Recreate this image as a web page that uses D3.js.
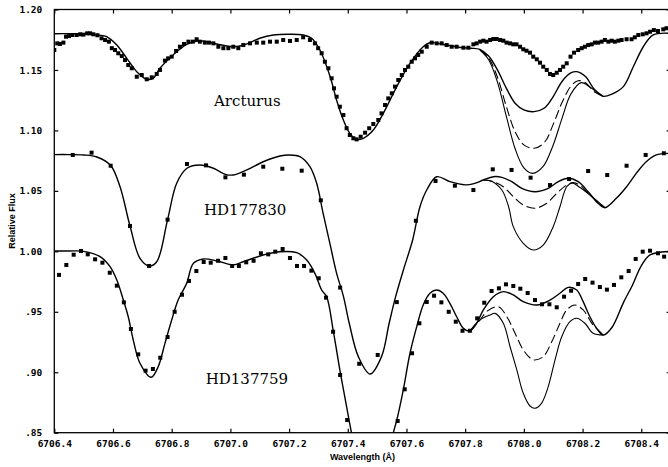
<!DOCTYPE html>
<html>
<head>
<meta charset="utf-8">
<script src="https://cdn.jsdelivr.net/npm/d3@7"></script>
<style>
  html, body { margin: 0; padding: 0; background: #fff; }
  svg { display: block; }
</style>
</head>
<body>
<svg id="chart" width="668" height="467"></svg>
<script>
// ---- Axis ticks ----
const xTicks = [6706.4, 6706.6, 6706.8, 6707.0, 6707.2, 6707.4, 6707.6, 6707.8, 6708.0, 6708.2, 6708.4];
const xTickLabels = ["6706.4", "6706.6", "6706.8", "6707.0", "6707.2", "6707.4", "6707.6", "6707.8", "6708.0", "6708.2", "6708.4"];
const yTicks = [0.85, 0.90, 0.95, 1.00, 1.05, 1.10, 1.15, 1.20];
const yTickLabels = [".85", ".90", ".95", "1.00", "1.05", "1.10", "1.15", "1.20"];

// ---- Star names ----
const starNames = ["Arcturus", "HD177830", "HD137759"];

// ---- Observed spectra: [wavelength, relative flux] ----
const arcturusObs = [
  [6706.400,1.1665],[6706.410,1.1720],[6706.419,1.1715],[6706.431,1.1726],[6706.440,1.1775],[6706.450,1.1780],
  [6706.461,1.1789],[6706.476,1.1789],[6706.488,1.1795],[6706.499,1.1792],[6706.512,1.1803],[6706.522,1.1803],
  [6706.533,1.1795],[6706.547,1.1787],[6706.561,1.1762],[6706.573,1.1748],[6706.586,1.1734],[6706.596,1.1680],
  [6706.607,1.1665],[6706.618,1.1638],[6706.630,1.1615],[6706.641,1.1582],[6706.652,1.1541],[6706.664,1.1514],
  [6706.681,1.1444],[6706.698,1.1458],[6706.715,1.1423],[6706.732,1.1439],[6706.749,1.1467],[6706.760,1.1500],
  [6706.777,1.1577],[6706.788,1.1596],[6706.800,1.1610],[6706.815,1.1657],[6706.828,1.1692],[6706.842,1.1715],
  [6706.857,1.1734],[6706.872,1.1734],[6706.885,1.1754],[6706.896,1.1734],[6706.913,1.1726],[6706.927,1.1726],
  [6706.942,1.1720],[6706.959,1.1692],[6706.976,1.1680],[6706.993,1.1680],[6707.010,1.1692],[6707.027,1.1680],
  [6707.044,1.1706],[6707.067,1.1720],[6707.090,1.1726],[6707.112,1.1726],[6707.135,1.1734],[6707.158,1.1734],
  [6707.180,1.1748],[6707.203,1.1740],[6707.226,1.1748],[6707.248,1.1770],[6707.271,1.1748],[6707.288,1.1720],
  [6707.299,1.1680],[6707.311,1.1638],[6707.322,1.1568],[6707.334,1.1514],[6707.345,1.1431],[6707.353,1.1348],
  [6707.362,1.1279],[6707.373,1.1196],[6707.385,1.1127],[6707.396,1.1018],[6707.407,1.0962],[6707.419,1.0935],
  [6707.430,1.0926],[6707.444,1.0948],[6707.459,1.0981],[6707.473,1.1018],[6707.487,1.1053],[6707.504,1.1086],
  [6707.515,1.1141],[6707.527,1.1210],[6707.538,1.1265],[6707.550,1.1307],[6707.561,1.1362],[6707.572,1.1417],
  [6707.584,1.1458],[6707.595,1.1500],[6707.606,1.1527],[6707.618,1.1568],[6707.629,1.1596],[6707.640,1.1624],
  [6707.652,1.1651],[6707.669,1.1692],[6707.686,1.1726],[6707.703,1.1720],[6707.720,1.1720],[6707.737,1.1706],
  [6707.754,1.1692],[6707.771,1.1692],[6707.794,1.1684],[6707.811,1.1684],[6707.828,1.1712],[6707.839,1.1720],
  [6707.851,1.1734],[6707.862,1.1742],[6707.873,1.1734],[6707.885,1.1748],[6707.896,1.1756],[6707.907,1.1756],
  [6707.919,1.1748],[6707.930,1.1742],[6707.941,1.1726],[6707.953,1.1720],[6707.964,1.1712],[6707.975,1.1712],
  [6707.987,1.1692],[6707.998,1.1671],[6708.009,1.1659],[6708.021,1.1643],[6708.032,1.1610],[6708.044,1.1588],
  [6708.055,1.1560],[6708.066,1.1527],[6708.078,1.1500],[6708.089,1.1467],[6708.100,1.1458],[6708.112,1.1477],
  [6708.123,1.1500],[6708.134,1.1527],[6708.146,1.1555],[6708.159,1.1610],[6708.171,1.1643],[6708.185,1.1665],
  [6708.197,1.1680],[6708.208,1.1692],[6708.219,1.1706],[6708.231,1.1712],[6708.242,1.1726],[6708.253,1.1726],
  [6708.265,1.1734],[6708.276,1.1748],[6708.288,1.1734],[6708.299,1.1742],[6708.310,1.1734],[6708.322,1.1742],
  [6708.333,1.1748],[6708.350,1.1754],[6708.367,1.1754],[6708.378,1.1770],[6708.390,1.1789],[6708.405,1.1795],
  [6708.418,1.1803],[6708.430,1.1816],[6708.443,1.1830],[6708.457,1.1822],[6708.475,1.1836],[6708.486,1.1845]
];

const hd177830Obs = [
  [6706.463,1.0797],[6706.527,1.0816],[6706.592,1.0708],[6706.658,1.0209],[6706.723,0.9879],[6706.786,1.0262],
  [6706.852,1.0722],[6706.917,1.0711],[6706.983,1.0612],[6707.046,1.0634],[6707.112,1.0700],[6707.177,1.0683],
  [6707.243,1.0667],[6707.308,1.0422],[6707.374,0.9700],[6707.439,0.9070],[6707.502,0.9143],[6707.567,0.9580],
  [6707.632,1.0253],[6707.699,1.0582],[6707.765,1.0543],[6707.828,1.0507],[6707.894,1.0678],[6707.958,1.0673],
  [6708.023,1.0609],[6708.089,1.0548],[6708.154,1.0598],[6708.219,1.0664],[6708.284,1.0631],[6708.350,1.0708],
  [6708.415,1.0797],[6708.477,1.0811]
];

const hd137759Obs = [
  [6706.416,0.9805],[6706.441,0.9887],[6706.466,0.9972],[6706.491,1.0003],[6706.514,0.9975],[6706.539,0.9934],
  [6706.564,0.9906],[6706.589,0.9823],[6706.613,0.9716],[6706.637,0.9578],[6706.661,0.9358],[6706.686,0.9148],
  [6706.711,0.9013],[6706.736,0.9027],[6706.761,0.9120],[6706.786,0.9291],[6706.810,0.9500],[6706.835,0.9641],
  [6706.859,0.9755],[6706.884,0.9837],[6706.909,0.9912],[6706.933,0.9906],[6706.958,0.9922],[6706.983,0.9945],
  [6707.006,0.9879],[6707.029,0.9879],[6707.054,0.9909],[6707.079,0.9922],[6707.104,0.9984],[6707.129,0.9975],
  [6707.153,0.9997],[6707.178,1.0019],[6707.203,0.9945],[6707.227,0.9879],[6707.251,0.9879],[6707.276,0.9840],
  [6707.301,0.9777],[6707.326,0.9617],[6707.350,0.9335],[6707.374,0.8977],[6707.398,0.8605],
  [6707.570,0.8597],[6707.594,0.8859],[6707.619,0.9157],[6707.644,0.9405],[6707.669,0.9581],[6707.694,0.9633],
  [6707.719,0.9578],[6707.744,0.9500],[6707.768,0.9418],[6707.791,0.9343],[6707.816,0.9343],[6707.841,0.9446],
  [6707.865,0.9575],[6707.890,0.9672],[6707.915,0.9694],[6707.939,0.9727],[6707.964,0.9713],[6707.988,0.9691],
  [6708.013,0.9655],[6708.038,0.9597],[6708.062,0.9562],[6708.087,0.9562],[6708.112,0.9537],[6708.137,0.9625],
  [6708.161,0.9674],[6708.185,0.9730],[6708.209,0.9771],[6708.234,0.9741],[6708.259,0.9705],[6708.283,0.9683],
  [6708.307,0.9722],[6708.332,0.9785],[6708.357,0.9837],[6708.381,0.9937],[6708.405,0.9997],[6708.430,1.0005],
  [6708.457,0.9984],[6708.478,0.9956]
];

// ---- Synthetic spectra (best fit across the window) ----
const arcturusFit = [
  [6706.40,1.1800],[6706.45,1.1800],[6706.50,1.1798],[6706.54,1.1790],[6706.578,1.1775],[6706.613,1.1706],
  [6706.647,1.1596],[6706.681,1.1486],[6706.715,1.1423],[6706.737,1.1431],[6706.76,1.1514],[6706.805,1.1624],
  [6706.851,1.1712],[6706.896,1.1742],[6706.953,1.1715],[6707.01,1.1692],[6707.05,1.1710],[6707.10,1.1762],
  [6707.146,1.1789],[6707.20,1.1795],[6707.248,1.1789],[6707.277,1.1762],[6707.305,1.1665],[6707.34,1.1444],
  [6707.362,1.1250],[6707.385,1.1086],[6707.407,1.0976],[6707.43,1.0926],[6707.453,1.0935],[6707.487,1.1003],
  [6707.521,1.1141],[6707.567,1.1362],[6707.612,1.1555],[6707.657,1.1692],[6707.68,1.1725],[6707.737,1.1706],
  [6707.79,1.1685],[6707.82,1.1680],[6707.85,1.1670],[6707.88,1.1615],[6707.91,1.1500],[6707.94,1.1350],
  [6707.97,1.1225],[6708.00,1.1170],[6708.035,1.1155],[6708.07,1.1185],[6708.10,1.1280],[6708.13,1.1405],
  [6708.16,1.1475],[6708.18,1.1486],[6708.21,1.1445],[6708.24,1.1340],[6708.27,1.1282],[6708.30,1.1300],
  [6708.339,1.1362],[6708.373,1.1527],[6708.407,1.1692],[6708.441,1.1790],[6708.50,1.1803]
];
const hd177830Fit = [
  [6706.40,1.0800],[6706.45,1.0800],[6706.50,1.0797],[6706.545,1.0780],[6706.592,1.0710],[6706.624,1.0534],
  [6706.658,1.0209],[6706.692,0.9942],[6706.723,0.9879],[6706.749,0.9914],[6706.786,1.0262],[6706.817,1.0563],
  [6706.852,1.0687],[6706.896,1.0714],[6706.942,1.0687],[6706.983,1.0637],[6707.01,1.0631],[6707.056,1.0673],
  [6707.112,1.0741],[6707.169,1.0788],[6707.20,1.0797],[6707.237,1.0783],[6707.271,1.0700],[6707.294,1.0563],
  [6707.316,1.0314],[6707.339,1.0066],[6707.362,0.9818],[6707.385,0.9630],[6707.405,0.9405],[6707.436,0.9129],
  [6707.476,0.8985],[6707.515,0.9129],[6707.541,0.9405],[6707.563,0.9625],[6707.59,0.9850],[6707.621,1.0094],
  [6707.646,1.0369],[6707.669,1.0507],[6707.703,1.0617],[6707.748,1.0576],[6707.80,1.0550],[6707.83,1.0560],
  [6707.862,1.0590],[6707.896,1.0617],[6707.925,1.0612],[6707.959,1.0576],[6707.993,1.0521],[6708.038,1.0493],
  [6708.083,1.0521],[6708.117,1.0576],[6708.151,1.0604],[6708.185,1.0576],[6708.219,1.0493],[6708.253,1.0397],
  [6708.276,1.0361],[6708.315,1.0438],[6708.35,1.0534],[6708.383,1.0645],[6708.417,1.0741],[6708.451,1.0797],
  [6708.50,1.0810]
];
const hd137759Fit = [
  [6706.40,1.0003],[6706.45,1.0003],[6706.50,1.0000],[6706.556,0.9956],[6706.59,0.9873],[6706.613,0.9763],
  [6706.635,0.9600],[6706.652,0.9459],[6706.669,0.9267],[6706.692,0.9074],[6706.73,0.8958],[6706.754,0.9046],
  [6706.777,0.9239],[6706.80,0.9432],[6706.822,0.9597],[6706.851,0.9735],[6706.874,0.9901],[6706.908,0.9937],
  [6706.953,0.9922],[6707.01,0.9887],[6707.044,0.9914],[6707.112,0.9970],[6707.169,0.9997],[6707.226,0.9989],
  [6707.26,0.9928],[6707.288,0.9818],[6707.311,0.9680],[6707.328,0.9625],[6707.351,0.9335],[6707.373,0.9019],
  [6707.396,0.8715],[6707.413,0.8495],[6707.43,0.8300],[6707.49,0.8000],[6707.54,0.8300],[6707.555,0.8495],
  [6707.567,0.8605],[6707.589,0.8853],[6707.612,0.9157],[6707.635,0.9377],[6707.657,0.9556],[6707.68,0.9653],
  [6707.703,0.9680],[6707.725,0.9653],[6707.748,0.9570],[6707.771,0.9459],[6707.794,0.9363],[6707.816,0.9341],
  [6707.839,0.9405],[6707.862,0.9515],[6707.896,0.9625],[6707.93,0.9667],[6707.964,0.9639],[6707.998,0.9584],
  [6708.044,0.9556],[6708.089,0.9597],[6708.123,0.9653],[6708.151,0.9702],[6708.18,0.9680],[6708.202,0.9584],
  [6708.225,0.9459],[6708.248,0.9363],[6708.271,0.9308],[6708.30,0.9370],[6708.34,0.9580],[6708.37,0.9720],
  [6708.40,0.9880],[6708.43,0.9970],[6708.50,1.0000]
];

// ---- Synthetic spectra with larger abundances near 6708 Å ----
const arcturusDashed = [
  [6707.85,1.1668],[6707.88,1.1600],[6707.91,1.1440],[6707.94,1.1200],[6707.97,1.0990],[6708.00,1.0880],
  [6708.035,1.0852],[6708.07,1.0900],[6708.10,1.1050],[6708.13,1.1230],[6708.16,1.1365],[6708.185,1.1411],
  [6708.21,1.1395],[6708.24,1.1320],[6708.27,1.1282]
];
const arcturusLow = [
  [6707.85,1.1665],[6707.88,1.1585],[6707.91,1.1400],[6707.94,1.1120],[6707.97,1.0850],[6708.00,1.0690],
  [6708.03,1.0645],[6708.065,1.0700],[6708.10,1.0880],[6708.13,1.1100],[6708.16,1.1300],[6708.195,1.1395],
  [6708.23,1.1350],[6708.27,1.1282]
];
const hd177830Dashed = [
  [6707.862,1.0590],[6707.896,1.0576],[6707.93,1.0534],[6707.964,1.0452],[6707.998,1.0383],[6708.038,1.0356],
  [6708.078,1.0397],[6708.112,1.0480],[6708.146,1.0548],[6708.169,1.0568],[6708.19,1.0548],[6708.225,1.0466],
  [6708.276,1.0361]
];
const hd177830Low = [
  [6707.862,1.0590],[6707.89,1.0580],[6707.925,1.0507],[6707.948,1.0369],[6707.964,1.0204],[6707.998,1.0066],
  [6708.032,1.0011],[6708.066,1.0052],[6708.10,1.0204],[6708.123,1.0369],[6708.146,1.0534],[6708.165,1.0565],
  [6708.19,1.0530],[6708.225,1.0466],[6708.276,1.0361]
];
const hd137759Dashed = [
  [6707.816,0.9341],[6707.85,0.9430],[6707.875,0.9505],[6707.913,0.9542],[6707.942,0.9459],[6707.97,0.9322],
  [6707.998,0.9184],[6708.027,0.9107],[6708.038,0.9101],[6708.066,0.9128],[6708.095,0.9252],[6708.123,0.9405],
  [6708.146,0.9515],[6708.174,0.9556],[6708.202,0.9515],[6708.236,0.9391],[6708.271,0.9308]
];
const hd137759Low = [
  [6707.816,0.9341],[6707.85,0.9432],[6707.885,0.9474],[6707.902,0.9487],[6707.93,0.9405],[6707.953,0.9211],
  [6707.976,0.9019],[6707.998,0.8826],[6708.021,0.8721],[6708.038,0.8702],[6708.06,0.8743],[6708.083,0.8881],
  [6708.106,0.9101],[6708.129,0.9294],[6708.157,0.9418],[6708.18,0.9446],[6708.208,0.9405],[6708.236,0.9322],
  [6708.271,0.9308]
];

// ---- Layout ----
const plot = { left: 54.3, top: 9.5, right: 670.6, bottom: 432.7 };

const svg = d3.select("#chart");
const x = d3.scaleLinear().domain([6706.4, 6708.5]).range([plot.left, plot.right]);
const y = d3.scaleLinear().domain([0.85, 1.20]).range([plot.bottom, plot.top]);

svg.append("defs").append("clipPath").attr("id", "plotClip")
  .append("rect")
  .attr("x", plot.left).attr("y", plot.top)
  .attr("width", plot.right - plot.left).attr("height", plot.bottom - plot.top);

const g = svg.append("g").attr("clip-path", "url(#plotClip)");

const line = d3.line()
  .x(d => x(d[0]))
  .y(d => y(d[1]))
  .curve(d3.curveCatmullRom.alpha(0.5));

// Synthetic curves
[arcturusFit, hd177830Fit, hd137759Fit].forEach(s => {
  g.append("path").attr("d", line(s))
    .attr("fill", "none").attr("stroke", "#000").attr("stroke-width", 1.4);
});
[arcturusLow, hd177830Low, hd137759Low].forEach(s => {
  g.append("path").attr("d", line(s))
    .attr("fill", "none").attr("stroke", "#000").attr("stroke-width", 1.1);
});
[arcturusDashed, hd177830Dashed, hd137759Dashed].forEach(s => {
  g.append("path").attr("d", line(s))
    .attr("fill", "none").attr("stroke", "#000").attr("stroke-width", 1.1)
    .attr("stroke-dasharray", "9,4");
});

// Observed points as small squares
const sq = 4;
[arcturusObs, hd177830Obs, hd137759Obs].forEach(s => {
  g.selectAll(null).data(s).enter().append("rect")
    .attr("x", d => x(d[0]) - sq / 2)
    .attr("y", d => y(d[1]) - sq / 2)
    .attr("width", sq).attr("height", sq)
    .attr("fill", "#000");
});

// Frame
svg.append("rect")
  .attr("x", plot.left).attr("y", plot.top)
  .attr("width", plot.right - plot.left).attr("height", plot.bottom - plot.top)
  .attr("fill", "none").attr("stroke", "#000").attr("stroke-width", 1.3);

// Axes with inward ticks
const tickLen = 4;
const xAxisBottom = d3.axisBottom(x).tickValues(xTicks).tickSizeInner(-tickLen).tickSizeOuter(0)
  .tickFormat((d, i) => xTickLabels[i]).tickPadding(8);
const xAxisTop = d3.axisTop(x).tickValues(xTicks).tickSizeInner(-tickLen).tickSizeOuter(0).tickFormat("");
const yAxisLeft = d3.axisLeft(y).tickValues(yTicks).tickSizeInner(-tickLen).tickSizeOuter(0)
  .tickFormat((d, i) => yTickLabels[i]).tickPadding(12);
const yAxisRight = d3.axisRight(y).tickValues(yTicks).tickSizeInner(-tickLen).tickSizeOuter(0).tickFormat("");

function styleAxis(sel) {
  sel.select(".domain").remove();
  sel.selectAll(".tick line").attr("stroke", "#000").attr("stroke-width", 1.2);
  sel.selectAll(".tick text")
    .attr("fill", "#000")
    .style("font-family", "'DejaVu Sans Mono', monospace")
    .style("font-weight", "bold")
    .style("font-size", "9.5px");
}
svg.append("g").attr("transform", `translate(0,${plot.bottom})`).call(xAxisBottom).call(styleAxis);
svg.append("g").attr("transform", `translate(0,${plot.top})`).call(xAxisTop).call(styleAxis);
svg.append("g").attr("transform", `translate(${plot.left},0)`).call(yAxisLeft).call(styleAxis);
svg.append("g").attr("transform", `translate(${plot.right},0)`).call(yAxisRight).call(styleAxis);

// Axis titles
svg.append("text")
  .attr("x", 362.5).attr("y", 460)
  .attr("text-anchor", "middle")
  .style("font-family", "'Liberation Sans', Arial, sans-serif")
  .style("font-weight", "bold").style("font-size", "9px")
  .text("Wavelength (Å)");
svg.append("text")
  .attr("transform", "translate(15,221) rotate(-90)")
  .attr("text-anchor", "middle")
  .style("font-family", "'Liberation Sans', Arial, sans-serif")
  .style("font-weight", "bold").style("font-size", "9px")
  .text("Relative Flux");

// Star labels
const labelPos = [[214, 106], [204, 215], [205.7, 384]];
starNames.forEach((name, i) => {
  svg.append("text")
    .attr("x", labelPos[i][0]).attr("y", labelPos[i][1])
    .style("font-family", "'DejaVu Serif', serif")
    .style("font-size", "15px")
    .text(name);
});
</script>
</body>
</html>
